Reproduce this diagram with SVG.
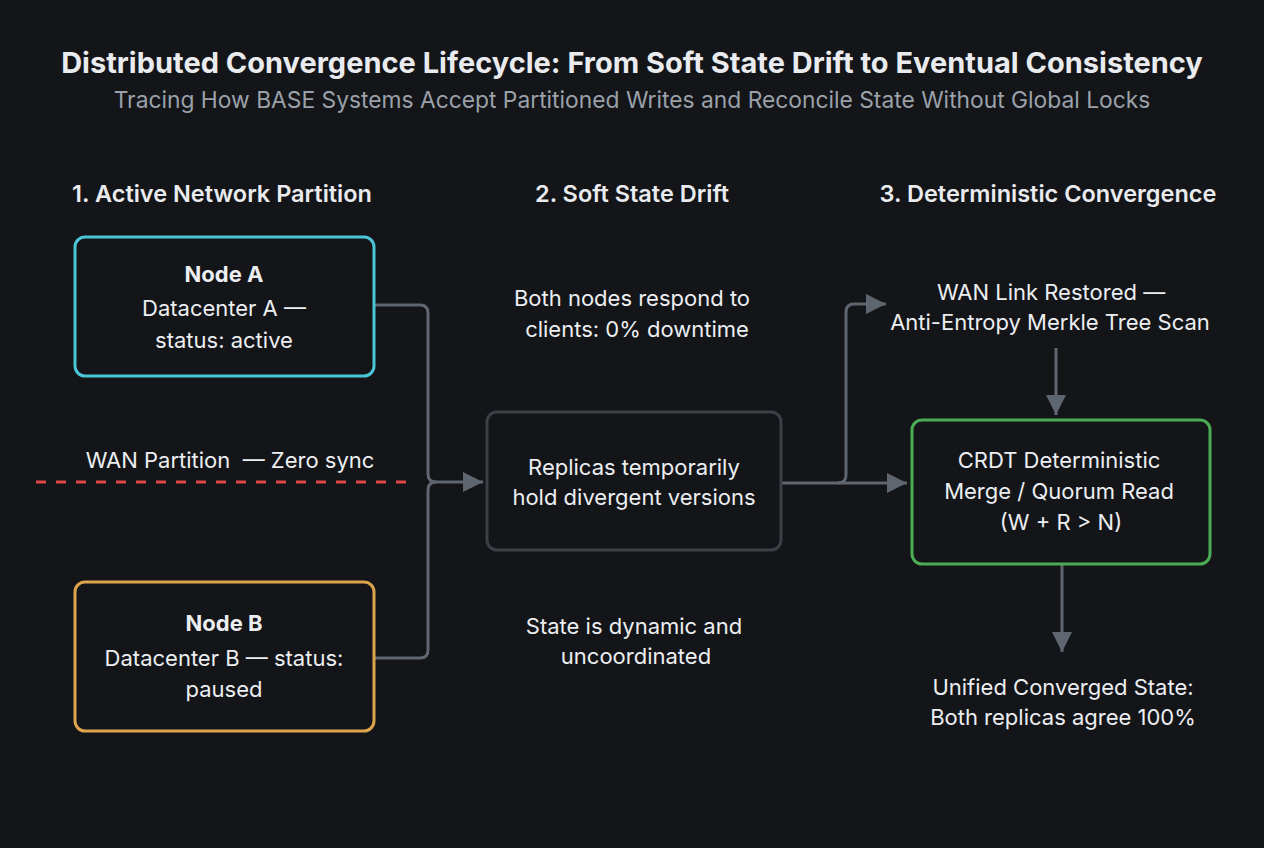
<svg xmlns="http://www.w3.org/2000/svg" width="1264" height="848" viewBox="0 0 1264 848">
<style>
text{font-family:Inter,"Noto Sans","Liberation Sans",sans-serif;text-anchor:middle;fill:#eceef1}
.title{font-size:29px;font-weight:700;fill:#e9ebee}
.sub{font-size:22.8px;fill:#9ba1a9}
.hdr{font-size:23.5px;font-weight:600;fill:#e9ebee}
.b{font-size:22px;font-weight:700}
.t{font-size:22px}
.box{fill:#131519;stroke-width:3}
.conn{fill:none;stroke:#5f666f;stroke-width:3;stroke-linejoin:round}
</style>
<defs>
<marker id="arr" viewBox="0 0 20 20" refX="20" refY="10" markerWidth="20" markerHeight="20" markerUnits="userSpaceOnUse" orient="auto">
<path d="M0,0 L20,10 L0,20 z" fill="#5f666f"/>
</marker>
</defs>
<rect width="1264" height="848" fill="#131519"/>
<text class="title" x="632" y="73">Distributed Convergence Lifecycle: From Soft State Drift to Eventual Consistency</text>
<text class="sub" x="632" y="108">Tracing How BASE Systems Accept Partitioned Writes and Reconcile State Without Global Locks</text>
<text class="hdr" x="222" y="202">1. Active Network Partition</text>
<text class="hdr" x="632" y="202">2. Soft State Drift</text>
<text class="hdr" x="1048" y="202">3. Deterministic Convergence</text>

<g id="connectors">
<path class="conn" d="M374,305 H420 Q428,305 428,313 V474 Q428,482 436,482 H483" marker-end="url(#arr)"/>
<path class="conn" d="M374,658 H420 Q428,658 428,650 V490 Q428,482 436,482"/>
<path class="conn" d="M781,483 H907" marker-end="url(#arr)"/>
<path class="conn" d="M838,483 Q846,483 846,475 V312 Q846,304 854,304 H886" marker-end="url(#arr)"/>
<path class="conn" d="M1056,348 V415" marker-end="url(#arr)"/>
<path class="conn" d="M1062,564 V652" marker-end="url(#arr)"/>
<line x1="36" y1="482" x2="412" y2="482" stroke="#e04848" stroke-width="3" stroke-dasharray="10 10"/>
</g>

<g id="nodeA">
<rect class="box" x="75" y="237" width="299" height="139" rx="10" stroke="#4cc6d6"/>
<text class="b" x="224" y="282">Node A</text>
<text class="t" x="224" y="316">Datacenter A —</text>
<text class="t" x="224" y="348">status: active</text>
</g>
<g id="partition">
<text class="t" x="230" y="468">WAN Partition&#160; — Zero sync</text>
</g>
<g id="nodeB">
<rect class="box" x="75" y="582" width="299" height="149" rx="10" stroke="#dca54c"/>
<text class="b" x="224" y="631">Node B</text>
<text class="t" x="224" y="666">Datacenter B — status:</text>
<text class="t" x="224" y="697">paused</text>
</g>
<g id="note1">
<text class="t" x="632" y="306">Both nodes respond to</text>
<text class="t" x="637" y="337">clients: 0% downtime</text>
</g>
<g id="replicas">
<rect class="box" x="487" y="412" width="294" height="138" rx="10" stroke="#3b4047"/>
<text class="t" x="634" y="475">Replicas temporarily</text>
<text class="t" x="634" y="505">hold divergent versions</text>
</g>
<g id="note2">
<text class="t" x="634" y="634">State is dynamic and</text>
<text class="t" x="636" y="664">uncoordinated</text>
</g>
<g id="restored">
<text class="t" x="1051" y="300">WAN Link Restored —</text>
<text class="t" x="1050" y="330">Anti-Entropy Merkle Tree Scan</text>
</g>
<g id="merge">
<rect class="box" x="912" y="420" width="298" height="144" rx="10" stroke="#4aad55"/>
<text class="t" x="1059" y="468">CRDT Deterministic</text>
<text class="t" x="1059" y="499">Merge / Quorum Read</text>
<text class="t" x="1061" y="530">(W + R &gt; N)</text>
</g>
<g id="unified">
<text class="t" x="1063" y="695">Unified Converged State:</text>
<text class="t" x="1063" y="725">Both replicas agree 100%</text>
</g>
</svg>
